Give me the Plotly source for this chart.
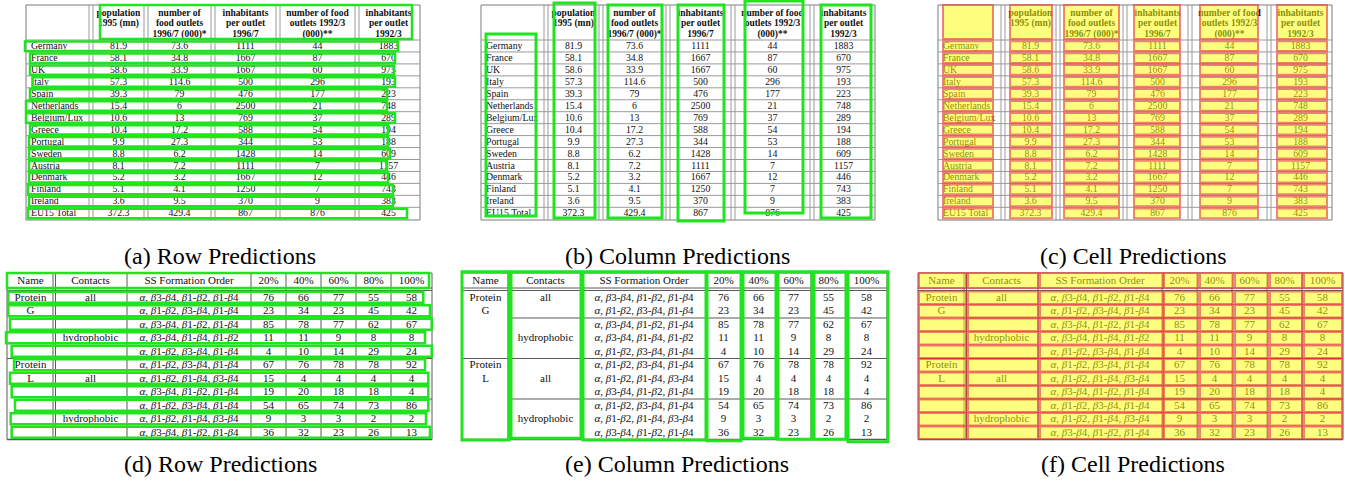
import plotly.graph_objects as go

W, H = 1345, 482
SERIF = "Liberation Serif"

# ---------------- food outlets table ----------------
food_header = [
    [],
    ["population", "1995 (mn)"],
    ["number of", "food outlets", "1996/7 (000)*"],
    ["inhabitants", "per outlet", "1996/7"],
    ["number of food", "outlets 1992/3", "(000)**"],
    ["inhabitants", "per outlet", "1992/3"],
]
countries = ["Germany", "France", "UK", "Italy", "Spain", "Netherlands", "Belgium/Lux",
             "Greece", "Portugal", "Sweden", "Austria", "Denmark", "Finland", "Ireland",
             "EU15 Total"]
population_1995 = [81.9, 58.1, 58.6, 57.3, 39.3, 15.4, 10.6, 10.4, 9.9, 8.8, 8.1, 5.2, 5.1, 3.6, 372.3]
outlets_1996 = [73.6, 34.8, 33.9, 114.6, 79, 6, 13, 17.2, 27.3, 6.2, 7.2, 3.2, 4.1, 9.5, 429.4]
inhab_per_outlet_1996 = [1111, 1667, 1667, 500, 476, 2500, 769, 588, 344, 1428, 1111, 1667, 1250, 370, 867]
outlets_1992 = [44, 87, 60, 296, 177, 21, 37, 54, 53, 14, 7, 12, 7, 9, 876]
inhab_per_outlet_1992 = [1883, 670, 975, 193, 223, 748, 289, 194, 188, 609, 1157, 446, 743, 383, 425]

# ---------------- protein folding table ----------------
protein_header = ["Name", "Contacts", "SS Formation Order", "20%", "40%", "60%", "80%", "100%"]
protein_names = ["Protein", "G", "", "", "", "Protein", "L", "", "", "", ""]
contact_types = ["all", "", "", "hydrophobic", "", "", "all", "", "", "hydrophobic", ""]
ss_orders = [
    "α, β3-β4, β1-β2, β1-β4",
    "α, β1-β2, β3-β4, β1-β4",
    "α, β3-β4, β1-β2, β1-β4",
    "α, β3-β4, β1-β4, β1-β2",
    "α, β1-β2, β3-β4, β1-β4",
    "α, β1-β2, β3-β4, β1-β4",
    "α, β1-β2, β1-β4, β3-β4",
    "α, β3-β4, β1-β2, β1-β4",
    "α, β1-β2, β3-β4, β1-β4",
    "α, β1-β2, β1-β4, β3-β4",
    "α, β3-β4, β1-β2, β1-β4",
]
pct_20 = [76, 23, 85, 11, 4, 67, 15, 19, 54, 9, 36]
pct_40 = [66, 34, 78, 11, 10, 76, 4, 20, 65, 3, 32]
pct_60 = [77, 23, 77, 9, 14, 78, 4, 18, 74, 3, 23]
pct_80 = [55, 45, 62, 8, 29, 78, 4, 18, 73, 2, 26]
pct_100 = [58, 42, 67, 8, 24, 92, 4, 4, 86, 2, 13]

captions_top = ["(a) Row Predictions", "(b) Column Predictions", "(c) Cell Predictions"]
captions_bottom = ["(d) Row Predictions", "(e) Column Predictions", "(f) Cell Predictions"]

# ---------------- geometry ----------------
food_cols = [0, 65, 120, 187, 252, 331, 394]
food_top, food_head_bot, food_row_h = 5, 40, 11.95
food_bot = 220
food_head_y0, food_head_gap = 13.3, 10.7
food_x0 = [26, 481, 938]

prot_cols = [0, 47, 120, 244, 279, 314, 349, 384, 425]
prot_top, prot_head_bot, prot_body_top, prot_row_h = 273, 288, 291, 13.5
prot_bot = prot_body_top + prot_row_h * 11
prot_x0 = [7, 462, 918]

cap_top_y, cap_bot_y = 256, 464

# detected boxes (offsets relative to each table's left edge)
food_row_boxes = [(-1, 372), (4, 369), (4, 368), (6.5, 369), (4, 361), (0, 361), (0, 369),
                  (4, 362), (3, 362), (3, 364), (3, 361), (3, 362), (2, 367), (3, 367), (2, 381)]
food_head_box = (74, 386, 5, 39)
food_col_boxes = [(5, 55, 34, 216), (73, 114, 3, 218), (127, 181, 5, 218),
                  (197, 243, 5, 221), (264, 322, 1, 213), (340, 390, 5, 218)]
food_cell_cols = [(5, 55), (72, 114), (126, 181), (196, 242), (262, 320), (339, 389)]

prot_head_box = (0, 422)
prot_row_boxes = [(1.3, 416.3), (1.3, 423), (3, 424.7), (-1, 418), (4.7, 424.7), (7, 418),
                  (3, 421.3), (4.7, 421.3), (8, 421.3), (3.7, 419), (4.7, 423)]
prot_col_boxes = [(0, 47, 440), (49, 119, 438.3), (121, 244, 440), (245, 279, 440.7),
                  (281, 314, 438.3), (316, 350, 439.3), (352, 384, 439.3), (386, 426, 441.7)]
prot_cell_cols = [(1, 48), (50, 120), (122, 245), (246, 280), (282, 315), (317, 350),
                  (352, 384), (386, 424)]

GREEN = "#1fe41f"
CELL_FILL = "rgba(255,255,0,0.5)"
CELL_LINE = "rgba(232,50,60,0.6)"
GRID_LIGHT = "#9a9a9a"
GRID_DARK = "#5a5a5a"

shapes = []
traces = []


def line(x0, y0, x1, y1, color, width=1.0):
    shapes.append(dict(type="line", x0=x0, y0=y0, x1=x1, y1=y1, xref="x", yref="y",
                       line=dict(color=color, width=width), layer="below"))


def box(x0, y0, x1, y1, color, width=2.5, fill=None):
    shapes.append(dict(type="rect", x0=x0, y0=y0, x1=x1, y1=y1, xref="x", yref="y",
                       line=dict(color=color, width=width),
                       fillcolor=fill if fill else "rgba(0,0,0,0)", layer="above"))


def text_trace(xs, ys, texts, size, pos="middle center"):
    traces.append(go.Scatter(x=xs, y=ys, text=texts, mode="text", textposition=pos,
                             textfont=dict(family=SERIF, size=size, color="#111"),
                             hoverinfo="skip", showlegend=False))


def fmt_ss(s):
    return s.replace("α", "<i>α</i>").replace("β", "<i>β</i>")


def food_table(x0):
    xr = x0 + food_cols[-1]
    line(x0, food_top, xr, food_top, "#7a7a7a")
    line(x0, food_bot, xr, food_bot, "#7a7a7a")
    line(x0, food_top, x0, food_bot, "#7a7a7a")
    line(xr, food_top, xr, food_bot, "#7a7a7a")
    for k in range(len(countries)):
        y = food_head_bot + food_row_h * k
        line(x0, y, xr, y, GRID_LIGHT)
    for c in food_cols[1:-1]:
        line(x0 + c - 2, food_top, x0 + c - 2, food_bot, GRID_LIGHT)
        line(x0 + c + 2, food_top, x0 + c + 2, food_bot, GRID_LIGHT)
    # header
    hx, hy, ht = [], [], []
    for j, lines in enumerate(food_header):
        cx = x0 + (food_cols[j] + food_cols[j + 1]) / 2
        for k, t in enumerate(lines):
            hx.append(cx)
            hy.append(food_head_y0 + k * food_head_gap)
            ht.append("<b>" + t + "</b>")
    text_trace(hx, hy, ht, 9.5)
    # body
    ys = [food_head_bot + food_row_h * (i + 0.5) + 0.6 for i in range(len(countries))]
    text_trace([x0 + 5] * len(countries), ys, countries, 9.8, pos="middle right")
    cols = [population_1995, outlets_1996, inhab_per_outlet_1996, outlets_1992, inhab_per_outlet_1992]
    bx, by, bt = [], [], []
    for j, col in enumerate(cols, start=1):
        cx = x0 + (food_cols[j] + food_cols[j + 1]) / 2
        for i, v in enumerate(col):
            bx.append(cx)
            by.append(ys[i])
            bt.append(str(v))
    text_trace(bx, by, bt, 9.8)


def prot_table(x0):
    xr = x0 + prot_cols[-1]
    c = GRID_DARK
    line(x0, prot_top, xr, prot_top, c)
    line(x0, prot_bot, xr, prot_bot, c, 1.3)
    line(x0, prot_top, x0, prot_bot, c)
    line(xr, prot_top, xr, prot_bot, c)
    line(x0, prot_head_bot, xr, prot_head_bot, c)
    line(x0, prot_head_bot + 2.5, xr, prot_head_bot + 2.5, c)
    line(x0 + prot_cols[1] - 1, prot_top, x0 + prot_cols[1] - 1, prot_bot, c)
    line(x0 + prot_cols[1] + 1.5, prot_top, x0 + prot_cols[1] + 1.5, prot_bot, c)
    for cc in prot_cols[2:-1]:
        line(x0 + cc, prot_top, x0 + cc, prot_bot, c)
    for k, full in [(2, False), (5, True), (8, False)]:
        y = prot_body_top + prot_row_h * k
        line(x0 + (0 if full else prot_cols[1] + 1.5), y, xr, y, c, 1.2)
    # header
    hx = [x0 + (prot_cols[j] + prot_cols[j + 1]) / 2 for j in range(len(protein_header))]
    text_trace(hx, [(prot_top + prot_head_bot) / 2 + 0.5] * len(hx), protein_header, 11)
    ys = [prot_body_top + prot_row_h * (i + 0.5) for i in range(len(ss_orders))]
    cols = [protein_names, contact_types, [fmt_ss(s) for s in ss_orders],
            pct_20, pct_40, pct_60, pct_80, pct_100]
    bx, by, bt = [], [], []
    for j, col in enumerate(cols):
        cx = x0 + (prot_cols[j] + prot_cols[j + 1]) / 2
        for i, v in enumerate(col):
            if v == "":
                continue
            bx.append(cx)
            by.append(ys[i])
            bt.append(str(v))
    text_trace(bx, by, bt, 11)


for x0 in food_x0:
    food_table(x0)
for x0 in prot_x0:
    prot_table(x0)

# ---- (a) row predictions ----
xa = food_x0[0]
l, r, t, b = food_head_box
box(xa + l, t, xa + r, b, GREEN)
for i, (l, r) in enumerate(food_row_boxes):
    top = food_head_bot + food_row_h * i
    box(xa + l, top + 1.5, xa + r, top + food_row_h - 1, GREEN)

# ---- (b) column predictions ----
xb = food_x0[1]
for l, r, t, b in food_col_boxes:
    box(xb + l, t, xb + r, b, GREEN, width=3)

# ---- (c) cell predictions ----
xc = food_x0[2]
for l, r in food_cell_cols:
    box(xc + l, 5, xc + r, 39, CELL_LINE, 2, CELL_FILL)
    for i in range(len(countries)):
        top = food_head_bot + food_row_h * i
        box(xc + l, top + 1.2, xc + r, top + food_row_h - 1, CELL_LINE, 2, CELL_FILL)

# ---- (d) row predictions ----
xd = prot_x0[0]
box(xd + prot_head_box[0], prot_top, xd + prot_head_box[1], prot_head_bot, GREEN)
for i, (l, r) in enumerate(prot_row_boxes):
    top = prot_body_top + prot_row_h * i
    box(xd + l, top + 0.7, xd + r, top + prot_row_h - 1.8, GREEN)

# ---- (e) column predictions ----
xe = prot_x0[1]
for l, r, b in prot_col_boxes:
    box(xe + l, 271.7, xe + r, b, GREEN, width=3)

# ---- (f) cell predictions ----
xf = prot_x0[2]
for l, r in prot_cell_cols:
    box(xf + l, prot_top, xf + r, prot_head_bot, CELL_LINE, 2, CELL_FILL)
    for i in range(len(ss_orders)):
        top = prot_body_top + prot_row_h * i
        box(xf + l, top + 0.5, xf + r, top + prot_row_h - 0.5, CELL_LINE, 2, CELL_FILL)

annotations = []
cap_x = [220, 677, 1133]
for x, txt in zip(cap_x, captions_top):
    annotations.append(dict(x=x, y=cap_top_y, xref="x", yref="y", text=txt, showarrow=False,
                            font=dict(family=SERIF, size=24, color="black"),
                            xanchor="center", yanchor="middle"))
for x, txt in zip(cap_x, captions_bottom):
    annotations.append(dict(x=x, y=cap_bot_y, xref="x", yref="y", text=txt, showarrow=False,
                            font=dict(family=SERIF, size=24, color="black"),
                            xanchor="center", yanchor="middle"))

fig = go.Figure(traces)
fig.update_layout(
    width=W, height=H, autosize=False,
    margin=dict(l=0, r=0, t=0, b=0),
    paper_bgcolor="white", plot_bgcolor="white",
    xaxis=dict(range=[0, W], visible=False, fixedrange=True),
    yaxis=dict(range=[H, 0], visible=False, fixedrange=True),
    shapes=shapes, annotations=annotations,
)
fig.write_html("out.html", config={"displayModeBar": False})
